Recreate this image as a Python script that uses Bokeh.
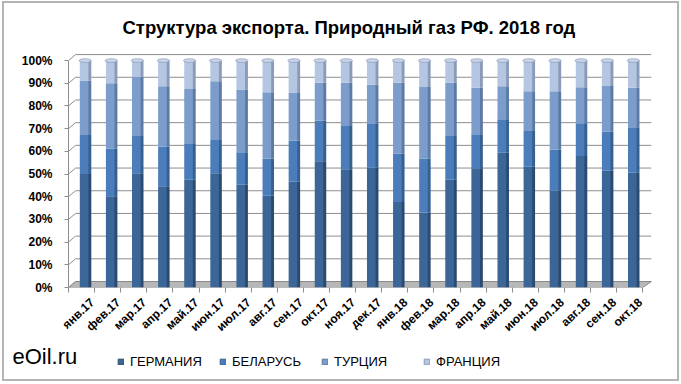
from bokeh.plotting import figure
from bokeh.layouts import column
from bokeh.models import ColumnDataSource, FixedTicker, Range1d, Legend, LegendItem, Title
from bokeh.embed import file_html
from bokeh.resources import INLINE
from bokeh.core.properties import value

# ---------------- data ----------------
months = ["янв.17", "фев.17", "мар.17", "апр.17", "май.17", "июн.17", "июл.17", "авг.17",
          "сен.17", "окт.17", "ноя.17", "дек.17", "янв.18", "фев.18", "мар.18", "апр.18",
          "май.18", "июн.18", "июл.18", "авг.18", "сен.18", "окт.18"]
germany = [50.0, 40.2, 50.3, 44.6, 47.5, 50.3, 45.3, 40.4, 46.6, 55.6, 52.1,
           52.8, 37.7, 33.1, 47.5, 52.5, 59.4, 53.2, 42.6, 57.9, 51.5, 50.6]
belarus = [17.2, 21.1, 16.5, 17.5, 15.7, 15.0, 14.3, 16.5, 18.1, 17.9, 19.4,
           19.3, 21.4, 23.8, 19.3, 15.0, 14.7, 15.8, 18.1, 14.5, 17.2, 19.7]
turkey = [24.0, 28.7, 26.2, 26.6, 24.3, 25.6, 27.6, 29.1, 21.0, 16.7, 18.7,
          17.3, 31.1, 31.5, 23.4, 20.5, 14.6, 17.5, 25.8, 15.8, 20.1, 17.7]
france = [8.8, 10.0, 7.0, 11.3, 12.5, 9.1, 12.8, 14.0, 14.3, 9.8, 9.8,
          10.6, 9.8, 11.6, 9.8, 12.0, 11.3, 13.5, 13.5, 11.8, 11.2, 12.0]
series_names = ["ГЕРМАНИЯ", "БЕЛАРУСЬ", "ТУРЦИЯ", "ФРАНЦИЯ"]
y_ticks = [0, 10, 20, 30, 40, 50, 60, 70, 80, 90, 100]
y_tick_labels = ["0%", "10%", "20%", "30%", "40%", "50%", "60%", "70%", "80%", "90%", "100%"]
title_text = "Структура экспорта. Природный газ РФ. 2018 год"
brand_text = "eOil.ru"

# ---------------- styling ----------------
face_colors = ["#3C6598", "#4A7DBA", "#7C9DCB", "#B5C6E2"]
side_colors = ["#2B4A70", "#36608F", "#5C7AA3", "#8A9BB8"]
grid_color = "#8E8E8E"
FONT = "Liberation Sans"
W = 673

n = len(months)
label_x = list(range(n))          # category label positions
shift = -0.3                      # bars sit slightly left of their (rotated) labels
bar_x = [x + shift for x in label_x]
depth_x = 0.27   # 3D depth offset (x units)
depth_y = 2.64   # 3D depth offset (y units)
x_lo, x_hi = -0.613 + shift, 21.72 + shift

p = figure(width=W, height=340, output_backend="svg", toolbar_location=None,
           x_range=Range1d(x_lo, x_hi), y_range=Range1d(0, 104),
           min_border_left=64, min_border_right=26, min_border_top=48, min_border_bottom=56)
p.frame_align = False
p.outline_line_color = None
p.grid.visible = False
p.background_fill_color = "white"
p.border_fill_color = "white"

p.title = Title(text=title_text, align="left", text_font=FONT, text_font_style="bold",
                text_font_size="18.5px", text_color="black", offset=54, standoff=24,
                vertical_align="top")

# back wall grid + depth connectors
front_x0 = x_lo
back_x0 = x_lo + depth_x
back_x1 = x_hi
p.segment(x0=[front_x0] * len(y_ticks), y0=y_ticks,
          x1=[back_x0] * len(y_ticks), y1=[t + depth_y for t in y_ticks],
          line_color=grid_color, line_width=1)
p.segment(x0=[back_x0] * len(y_ticks), y0=[t + depth_y for t in y_ticks],
          x1=[back_x1] * len(y_ticks), y1=[t + depth_y for t in y_ticks],
          line_color=grid_color, line_width=1)

# floor
front_x1 = x_lo + n
p.patch(x=[front_x0, back_x0, back_x1, front_x1], y=[0, depth_y, depth_y, 0],
        fill_color="#B7B7B7", line_color="#8A8A8A", line_width=1)

# stacked bars (100%)
data = [germany, belarus, turkey, france]
totals = [sum(v[i] for v in data) for i in range(n)]
bottoms = [0.0] * n
for k, vals in enumerate(data):
    pct = [vals[i] / totals[i] * 100 for i in range(n)]
    tops = [bottoms[i] + pct[i] for i in range(n)]
    src = ColumnDataSource(dict(x=bar_x, xs_side=[x + 0.205 for x in bar_x],
                                bottom=list(bottoms), top=tops))
    p.vbar(x="x", width=0.36, bottom="bottom", top="top", source=src,
           fill_color=face_colors[k], line_color=None)
    p.vbar(x="xs_side", width=0.11, bottom="bottom", top="top", source=src,
           fill_color=side_colors[k], line_color=None)
    bottoms = tops

# bar caps
p.ellipse(x=[x + 0.025 for x in bar_x], y=bottoms, width=0.47, height=1.6,
          fill_color="#C9D5EA", line_color="#8E9BB3", line_width=0.7)

# axes
yax = p.yaxis[0]
yax.ticker = FixedTicker(ticks=y_ticks)
yax.major_label_overrides = {t: l for t, l in zip(y_ticks, y_tick_labels)}
yax.bounds = (0, 100)
yax.axis_line_color = grid_color
yax.major_tick_line_color = grid_color
yax.major_tick_out = 4
yax.major_tick_in = 0
yax.minor_tick_line_color = None
yax.major_label_standoff = 12
yax.major_label_text_font = FONT
yax.major_label_text_font_style = "bold"
yax.major_label_text_font_size = "12px"
yax.major_label_text_color = "black"

xax = p.xaxis[0]
xax.ticker = FixedTicker(ticks=label_x, minor_ticks=[x_lo + i for i in range(n + 1)])
xax.major_label_overrides = {i: m for i, m in zip(label_x, months)}
xax.axis_line_color = None
xax.major_tick_line_color = None
xax.major_tick_out = 0
xax.major_tick_in = 0
xax.minor_tick_line_color = grid_color
xax.minor_tick_out = 5
xax.minor_tick_in = 0
xax.major_label_orientation = 0.75
xax.major_label_standoff = 8
xax.major_label_text_font = FONT
xax.major_label_text_font_style = "bold"
xax.major_label_text_font_size = "12px"
xax.major_label_text_color = "black"

# ---------------- legend strip ----------------
H2 = 36
q = figure(width=W, height=H2, output_backend="svg", toolbar_location=None,
           x_range=Range1d(0, W), y_range=Range1d(0, H2),
           x_axis_location=None, y_axis_location=None,
           min_border_left=0, min_border_right=0, min_border_top=0, min_border_bottom=0)
q.frame_align = False
q.outline_line_color = None
q.grid.visible = False
q.background_fill_color = "white"
q.border_fill_color = "white"

items = []
for k in range(4):
    r = q.vbar(x=[-100], top=[-100], bottom=[-101], width=1,
               fill_color=face_colors[k], line_color=side_colors[k])
    items.append(LegendItem(label=series_names[k], renderers=[r]))
legend = Legend(items=items, location=(113, 10), orientation="horizontal",
                glyph_width=7, glyph_height=7, label_standoff=6, spacing=0, label_width=89,
                padding=0, margin=0, border_line_color=None, background_fill_alpha=0,
                label_text_font=FONT, label_text_font_size="13px",
                label_text_color="black")
q.add_layout(legend)

q.text(x=[8], y=[23], text=[brand_text], text_font=value(FONT), text_font_size="22px",
       text_color="black", text_baseline="middle", text_align="left")

layout = column(p, q, spacing=0,
                styles={"border": "2px solid #B4B4B4", "margin": "1px 0 0 2px"})

open("out.html", "w").write(file_html(layout, INLINE))
